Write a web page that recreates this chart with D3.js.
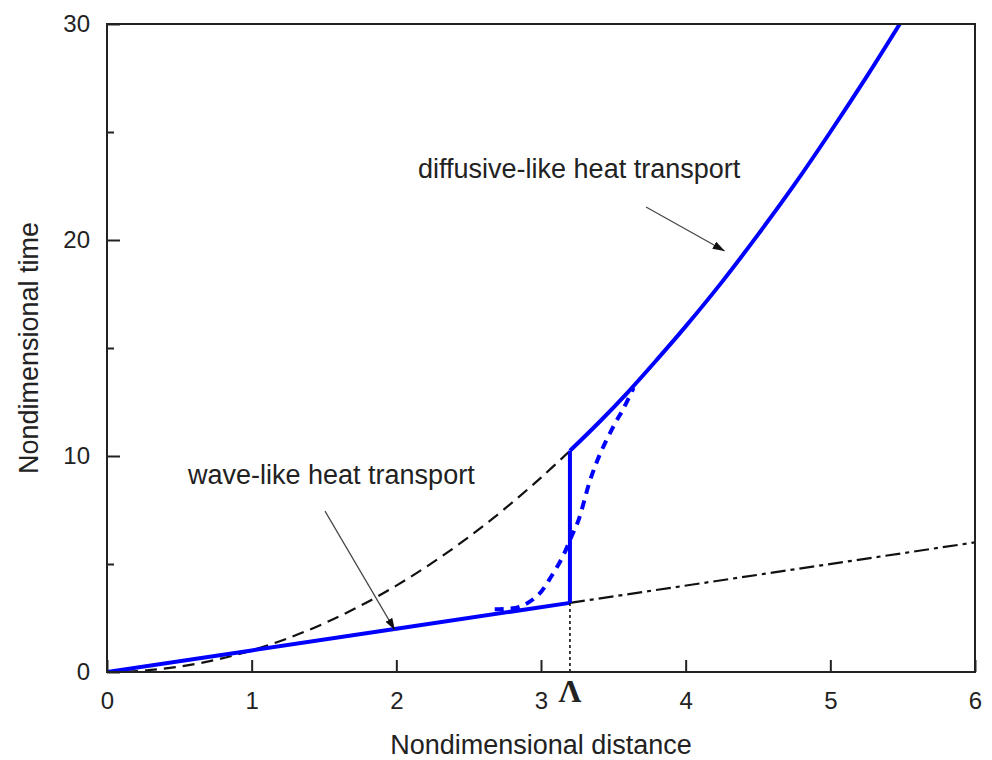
<!DOCTYPE html>
<html>
<head>
<meta charset="utf-8">
<script src="https://cdn.jsdelivr.net/npm/d3@7"></script>
<style>
  body { margin: 0; background: #fff; }
  svg text { font-family: "Liberation Sans", Arial, sans-serif; fill: #222; }
</style>
</head>
<body>
<svg id="chart" width="992" height="760"></svg>
<script>
// values
var LAMBDA = 3.2;

// wave-like branch (solid blue, lower part)
var waveX = [0, 1, 2, 3.2];
var waveY = [0, 1, 2, 3.2];

// vertical jump at Lambda
var jumpX = [3.2, 3.2];
var jumpY = [3.2, 10.24];

// diffusive-like branch (solid blue, upper part)
var diffX = [3.2, 3.4, 3.6, 3.8, 4.0, 4.25, 4.5, 4.75, 5.0, 5.25, 5.48];
var diffY = [10.24, 11.55, 12.95, 14.45, 16.0, 18.05, 20.25, 22.55, 25.0, 27.55, 30.0];

// smooth transition (dashed blue)
var transX = [2.68, 2.85, 2.98, 3.07, 3.15, 3.21, 3.26, 3.34, 3.41, 3.5, 3.57, 3.64];
var transY = [2.9, 3.02, 3.56, 4.41, 5.34, 6.26, 7.04, 8.89, 10.12, 11.36, 12.2, 13.15];

// black dashed curve up to Lambda
var parabX = [0, 0.25, 0.5, 0.75, 1.0, 1.25, 1.5, 1.75, 2.0, 2.25, 2.5, 2.75, 3.0, 3.2];
var parabY = [0, 0.06, 0.25, 0.56, 1.0, 1.56, 2.25, 3.06, 4.0, 5.06, 6.25, 7.56, 9.0, 10.24];

// dash-dot line beyond Lambda
var lineX = [3.2, 6];
var lineY = [3.2, 6];

// axis ticks
var xTicks = [0, 1, 2, 3, 4, 5, 6];
var yMajor = [0, 10, 20, 30];
var yMinor = [5, 15, 25];

// annotations: [text, textX, textY, arrowFromX, arrowFromY, arrowToX, arrowToY]
var notes = [
  ["wave-like heat transport", 0.56, 8.7, 1.507, 7.45, 1.99, 1.94],
  ["diffusive-like heat transport", 2.15, 22.85, 3.726, 21.53, 4.27, 19.49]
];

function zip(xs, ys) {
  return xs.map(function (x, i) { return [x, ys[i]]; });
}

var svg = d3.select("#chart"),
    margin = {top: 24, right: 17, bottom: 88, left: 107},
    width = +svg.attr("width") - margin.left - margin.right,
    height = +svg.attr("height") - margin.top - margin.bottom,
    g = svg.append("g").attr("transform", "translate(" + margin.left + "," + margin.top + ")");

var x = d3.scaleLinear().domain([0, 6]).range([0, width]);
var y = d3.scaleLinear().domain([0, 30]).range([height, 0]);

var line = d3.line()
    .x(function (d) { return x(d[0]); })
    .y(function (d) { return y(d[1]); });
var smooth = d3.line()
    .x(function (d) { return x(d[0]); })
    .y(function (d) { return y(d[1]); })
    .curve(d3.curveCatmullRom);

// clip
svg.append("defs").append("clipPath").attr("id", "clip")
  .append("rect").attr("width", width).attr("height", height);

svg.select("defs").append("marker")
    .attr("id", "arrowhead")
    .attr("viewBox", "0 0 12 8")
    .attr("refX", 12).attr("refY", 4)
    .attr("markerWidth", 12).attr("markerHeight", 8)
    .attr("markerUnits", "userSpaceOnUse")
    .attr("orient", "auto")
  .append("path")
    .attr("d", "M0,0L12,4L0,8Z")
    .attr("fill", "#111");

var plot = g.append("g").attr("clip-path", "url(#clip)");

// black dashed
plot.append("path").datum(zip(parabX, parabY))
    .attr("d", smooth).attr("fill", "none")
    .attr("stroke", "#111").attr("stroke-width", 2.2)
    .attr("stroke-dasharray", "12,7");

// dash-dot
plot.append("path").datum(zip(lineX, lineY))
    .attr("d", line).attr("fill", "none")
    .attr("stroke", "#111").attr("stroke-width", 2.2)
    .attr("stroke-dasharray", "15,5,4,5");

// dotted vertical at Lambda
g.append("path").datum([[LAMBDA, 0], [LAMBDA, 3.2]])
    .attr("d", line).attr("fill", "none")
    .attr("stroke", "#111").attr("stroke-width", 1.6)
    .attr("stroke-dasharray", "3,3");

// blue dashed transition
plot.append("path").datum(zip(transX, transY))
    .attr("d", smooth).attr("fill", "none")
    .attr("stroke", "#0000ff").attr("stroke-width", 4)
    .attr("stroke-dasharray", "9,7");

// blue solid branches
[zip(waveX, waveY), zip(jumpX, jumpY)].forEach(function (pts) {
  plot.append("path").datum(pts)
      .attr("d", line).attr("fill", "none")
      .attr("stroke", "#0000ff").attr("stroke-width", 4)
      .attr("stroke-linejoin", "round");
});
plot.append("path").datum(zip(diffX, diffY))
    .attr("d", smooth).attr("fill", "none")
    .attr("stroke", "#0000ff").attr("stroke-width", 4);

// frame
g.append("rect").attr("width", width).attr("height", height)
    .attr("fill", "none").attr("stroke", "#222").attr("stroke-width", 2);

// x axis ticks and labels
var xAxis = g.append("g").attr("transform", "translate(0," + height + ")")
    .call(d3.axisBottom(x).tickValues(xTicks).tickFormat(d3.format("d"))
      .tickSizeInner(-12).tickSizeOuter(0).tickPadding(20));
xAxis.select(".domain").remove();
xAxis.selectAll("line").attr("stroke", "#222").attr("stroke-width", 2);
xAxis.selectAll("text").attr("font-size", 24).attr("fill", "#222")
    .attr("font-family", "Liberation Sans, Arial, sans-serif");

// y axis major and minor
var yAxis = g.append("g")
    .call(d3.axisLeft(y).tickValues(yMajor).tickFormat(d3.format("d"))
      .tickSizeInner(-13).tickSizeOuter(0).tickPadding(17));
yAxis.select(".domain").remove();
yAxis.selectAll("line").attr("stroke", "#222").attr("stroke-width", 2);
yAxis.selectAll("text").attr("font-size", 24).attr("fill", "#222")
    .attr("font-family", "Liberation Sans, Arial, sans-serif");

var yAxisMinor = g.append("g")
    .call(d3.axisLeft(y).tickValues(yMinor).tickSizeInner(-7).tickSizeOuter(0).tickFormat(""));
yAxisMinor.select(".domain").remove();
yAxisMinor.selectAll("line").attr("stroke", "#222").attr("stroke-width", 2);

// Lambda label
g.append("text")
    .attr("x", x(LAMBDA)).attr("y", height + 30)
    .attr("text-anchor", "middle")
    .style("font-family", "Liberation Serif, Times New Roman, serif")
    .style("font-weight", "bold")
    .style("font-size", "32px")
    .text("Λ");

// axis titles
g.append("text")
    .attr("x", width / 2).attr("y", height + 82)
    .attr("text-anchor", "middle")
    .style("font-size", "27px")
    .text("Nondimensional distance");

g.append("text")
    .attr("transform", "translate(" + (-margin.left + 38) + "," + (height / 2) + ") rotate(-90)")
    .attr("text-anchor", "middle")
    .style("font-size", "27px")
    .text("Nondimensional time");

// annotations
notes.forEach(function (n) {
  g.append("text")
      .attr("x", x(n[1])).attr("y", y(n[2]))
      .style("font-size", "27px")
      .text(n[0]);
  g.append("line")
      .attr("x1", x(n[3])).attr("y1", y(n[4]))
      .attr("x2", x(n[5])).attr("y2", y(n[6]))
      .attr("stroke", "#444").attr("stroke-width", 1.2)
      .attr("marker-end", "url(#arrowhead)");
});
</script>
</body>
</html>
